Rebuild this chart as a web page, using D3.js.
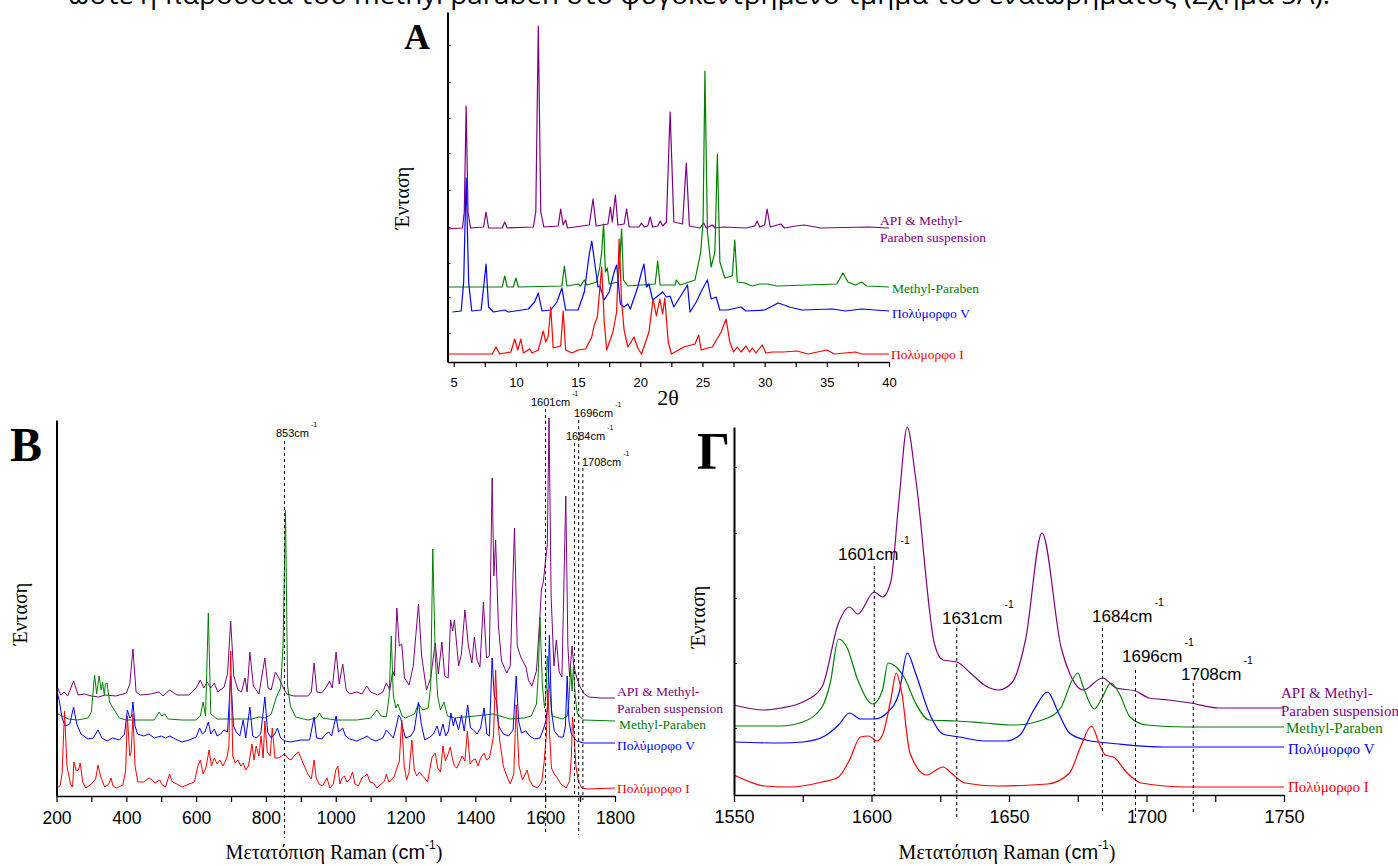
<!DOCTYPE html>
<html><head><meta charset="utf-8">
<script src="https://cdn.jsdelivr.net/npm/d3@7"></script>
<style>body{margin:0;background:#fff;} svg{display:block;background:#fff}</style>
</head><body><svg id="c" width="1398" height="866"></svg>
<script>
// ---------------- DATA ----------------
const headerText = "ώστε η παρουσία του methyl paraben στο φυγοκεντρημένο τμήμα του εναιωρήματος (Σχήμα 5Α).";
const seriesNames = ["API & Methyl-", "Paraben suspension", "Methyl-Paraben", "Πολύμορφο V", "Πολύμορφο I"];
const seriesColors = ["#800080", "#008000", "#0000ff", "#ff0000"];
const yLabel = "Ένταση";
const ramanLabel = ["Μετατόπιση Raman (", "cm", "-1", ")"];
const xrdLabel = "2θ";
const panelLetters = ["A", "B", "Γ"];

// Panel A : XRD (2θ, intensity a.u.)
const aTicks = [5, 7.5, 10, 12.5, 15, 17.5, 20, 22.5, 25, 27.5, 30, 32.5, 35, 37.5, 40];
const aTickLabels = [5, 10, 15, 20, 25, 30, 35, 40];
const aYTicks = [29, 65, 99, 135, 172, 209, 244, 280, 317];
const aSuspension = [[4.5,133],[5.7,134],[5.85,150],[6.0,256],[6.15,150],[6.35,134],[7.4,135],[7.6,150],[7.8,134],[8.9,134],[9.1,140],[9.3,134],[11.4,135],[11.6,150],[11.8,336],[12.0,150],[12.25,135],[13.4,136],[13.6,153],[13.8,137],[14.0,142],[14.15,134],[15.9,137],[16.2,163],[16.45,136],[17.4,138],[17.6,155],[17.75,140],[18.0,167],[18.2,137],[18.7,138],[18.9,153],[19.1,135],[19.9,135],[20.1,139],[20.3,135],[20.6,136],[20.8,145],[21.0,135],[21.4,136],[21.6,141],[21.8,136],[22.1,140],[22.4,250],[22.7,140],[23.4,138],[23.7,199],[23.95,136],[24.8,134],[25.1,139],[25.3,134],[25.8,137],[26.0,134],[26.7,135],[28.5,134],[29.2,136],[29.4,141],[29.6,135],[30.0,137],[30.2,153],[30.45,135],[31.3,138],[31.6,134],[32.5,136],[33.2,137],[34.5,134],[38.3,135],[40,134]];
const aMethyl = [[4.5,75],[8.9,75],[9.1,86],[9.3,75],[9.8,75],[10.0,84],[10.2,75],[13.7,76],[13.9,96],[14.1,76],[15.0,78],[15.2,76],[15.5,82],[15.7,77],[16.5,80],[16.75,95],[16.9,110],[17.05,138],[17.2,90],[17.35,94],[17.5,78],[18.2,80],[18.35,100],[18.5,133],[18.65,82],[19,76],[21.2,78],[21.4,101],[21.6,77],[22.8,77],[22.9,82],[23.2,77],[24.4,82],[24.85,109],[25.05,140],[25.2,291],[25.4,130],[25.7,95],[26.0,110],[26.2,208],[26.4,100],[26.8,84],[27.4,86],[27.6,122],[27.8,80],[28.4,79],[29.0,76],[29.6,78],[30.2,78],[31.0,76],[35.8,78],[36.3,89],[36.7,80],[37.3,77],[37.8,80],[38.2,76],[40,75]];
const aFormV = [[4.9,50],[5.6,51],[5.8,80],[6.0,184],[6.2,80],[6.45,51],[7.2,52],[7.45,80],[7.6,98],[7.8,55],[8.2,50],[9.1,52],[9.4,50],[11.0,53],[11.5,60],[11.8,69],[12.1,51],[12.8,52],[13.3,60],[13.7,74],[14.0,52],[15.0,52],[15.5,70],[15.9,108],[16.1,121],[16.35,98],[16.6,75],[16.75,76],[17.1,62],[17.5,70],[17.9,90],[18.1,97],[18.4,58],[18.7,55],[19.0,58],[19.2,53],[19.8,75],[20.1,90],[20.3,98],[20.5,75],[20.7,78],[21.0,62],[21.4,66],[21.8,70],[22.1,65],[22.4,66],[22.7,55],[23.3,67],[23.8,77],[24.0,50],[24.5,60],[25.0,73],[25.4,82],[25.7,63],[26.1,65],[26.4,52],[27,52],[28.1,55],[28.5,51],[30,52],[31.1,59],[32,55],[33,52],[35.5,53],[36.5,51],[37.8,53],[40,51]];
const aFormI = [[4.5,8],[8.1,8],[8.4,15],[8.7,8],[9.6,10],[9.9,23],[10.15,12],[10.4,23],[10.6,9],[11.1,13],[11.3,9],[11.8,12],[12.2,31],[12.4,20],[12.6,26],[12.8,55],[13.0,14],[13.6,16],[13.8,51],[14.0,12],[14.5,9],[15.0,12],[15.6,13],[16.1,25],[16.3,37],[16.55,45],[16.9,95],[17.1,40],[17.3,12],[17.8,30],[18.1,50],[18.3,123],[18.5,60],[18.7,32],[19.0,15],[19.5,25],[19.8,14],[20.1,8],[20.7,30],[21.03,63],[21.3,46],[21.57,63],[21.8,48],[21.97,64],[22.25,20],[22.5,8],[23.5,15],[24.4,18],[24.7,27],[24.9,12],[25.4,14],[25.8,15],[26.5,30],[26.9,43],[27.2,20],[27.5,10],[27.8,15],[28.1,10],[28.5,16],[28.8,10],[29.0,14],[29.3,9],[29.8,17],[30.1,9],[30.6,10],[31.5,10],[32.6,11],[33.5,8],[35.0,12],[35.6,8],[37.3,10],[37.8,8],[40,8]];

// Panel B : Raman full range (cm-1, intensity a.u.)
const bTicks = [200,300,400,500,600,700,800,900,1000,1100,1200,1300,1400,1500,1600,1700,1800];
const bTickLabels = [200,400,600,800,1000,1200,1400,1600,1800];
const bMarkers = [853, 1601, 1684, 1696, 1708];
const bMarkerLabels = ["853cm", "1601cm", "1684cm", "1696cm", "1708cm"];
const bSuspension = [[200,111],[212,101],[222,104],[232,100],[249,115],[262,101],[280,102],[300,100],[320,99],[340,101],[370,100],[400,103],[410,112],[419,147],[428,104],[440,101],[470,102],[494,104],[505,100],[524,106],[545,101],[580,101],[600,108],[612,116],[622,108],[632,114],[642,108],[652,113],[662,104],[680,109],[690,122],[699,175],[708,120],[720,106],[730,104],[740,118],[746,104],[754,144],[764,110],[780,102],[797,138],[806,108],[815,106],[827,124],[837,118],[845,112],[853,106],[860,102],[880,100],[920,100],[930,104],[938,133],[946,104],[960,103],[975,110],[982,115],[990,108],[1001,144],[1010,112],[1020,132],[1030,106],[1040,102],[1060,104],[1075,102],[1089,110],[1100,104],[1120,101],[1135,104],[1145,113],[1155,106],[1163,125],[1168,120],[1175,188],[1182,150],[1189,152],[1197,118],[1210,111],[1222,130],[1237,192],[1246,140],[1260,106],[1272,118],[1285,153],[1294,122],[1304,154],[1312,120],[1322,118],[1329,176],[1335,165],[1340,176],[1352,130],[1360,142],[1370,186],[1380,150],[1390,133],[1397,159],[1405,136],[1413,129],[1423,194],[1432,138],[1440,140],[1448,318],[1453,220],[1458,256],[1466,170],[1475,135],[1490,123],[1500,130],[1512,268],[1520,150],[1530,139],[1545,129],[1552,116],[1562,110],[1575,125],[1585,180],[1589,206],[1595,215],[1601,236],[1606,250],[1611,378],[1617,200],[1625,130],[1632,156],[1640,124],[1648,119],[1659,300],[1665,150],[1670,119],[1677,150],[1682,130],[1690,119],[1700,109],[1712,102],[1725,99],[1760,98],[1800,98]];
const bMethyl = [[200,83],[215,80],[235,77],[260,76],[290,78],[300,84],[309,121],[315,102],[322,120],[328,106],[332,114],[337,101],[340,112],[345,113],[352,94],[362,88],[380,78],[400,76],[480,76],[494,84],[502,80],[510,82],[520,77],[560,76],[600,76],[612,80],[620,94],[627,80],[635,183],[642,82],[660,77],[700,77],[760,77],[780,79],[800,78],[815,82],[830,99],[842,108],[849,150],[856,286],[862,110],[870,90],[885,79],[920,76],[945,78],[953,83],[962,78],[1000,76],[1060,76],[1100,78],[1118,86],[1130,80],[1145,79],[1153,100],[1159,160],[1165,100],[1172,88],[1178,92],[1190,80],[1200,78],[1225,82],[1237,92],[1250,86],[1265,88],[1272,110],[1278,247],[1285,140],[1292,100],[1300,86],[1310,94],[1320,80],[1340,78],[1400,80],[1450,82],[1470,80],[1500,77],[1540,78],[1560,80],[1575,92],[1580,120],[1585,179],[1592,110],[1598,88],[1602,100],[1606,140],[1612,110],[1620,80],[1650,77],[1663,80],[1668,95],[1673,129],[1677,105],[1681,129],[1686,100],[1692,82],[1710,76],[1800,75]];
const bFormV = [[200,107],[208,95],[216,78],[225,70],[238,72],[249,89],[258,72],[270,62],[290,57],[305,58],[319,66],[330,58],[345,55],[360,58],[380,56],[395,62],[403,86],[410,78],[415,80],[419,94],[425,70],[432,62],[450,60],[465,62],[480,58],[500,60],[512,58],[525,60],[540,57],[560,54],[580,56],[600,59],[610,68],[618,62],[625,64],[635,74],[642,62],[652,67],[660,60],[670,62],[680,66],[690,64],[699,120],[707,70],[715,64],[725,60],[735,76],[742,58],[754,89],[762,60],[772,58],[785,62],[797,99],[805,64],[815,58],[825,62],[833,68],[842,58],[855,55],[870,54],[900,56],[925,56],[938,79],[945,58],[960,57],[972,62],[980,64],[988,60],[1001,80],[1008,64],[1020,68],[1028,60],[1040,57],[1060,55],[1080,58],[1090,60],[1100,57],[1115,55],[1135,58],[1145,66],[1155,62],[1165,58],[1175,72],[1180,81],[1186,78],[1192,68],[1200,58],[1215,60],[1225,66],[1237,94],[1245,72],[1255,56],[1270,59],[1280,62],[1290,70],[1298,60],[1307,72],[1315,60],[1323,65],[1330,83],[1337,70],[1342,78],[1352,66],[1360,81],[1368,65],[1378,91],[1386,68],[1395,66],[1405,62],[1415,68],[1425,88],[1433,62],[1440,60],[1448,138],[1454,100],[1460,96],[1467,70],[1480,62],[1495,60],[1508,66],[1517,120],[1524,75],[1532,63],[1545,65],[1555,60],[1570,57],[1585,58],[1595,67],[1602,75],[1607,90],[1612,161],[1618,85],[1626,65],[1640,59],[1652,59],[1658,70],[1663,120],[1668,75],[1675,62],[1690,55],[1710,53],[1800,53]];
const bFormI = [[200,8],[210,10],[216,22],[223,85],[230,30],[240,12],[246,9],[250,34],[257,25],[263,26],[268,33],[275,14],[284,8],[300,12],[312,17],[319,31],[326,20],[338,9],[350,12],[356,18],[362,10],[372,8],[390,11],[398,25],[403,80],[410,40],[414,44],[419,82],[425,30],[433,14],[450,14],[465,18],[475,16],[482,13],[496,16],[503,11],[512,9],[524,22],[532,14],[545,12],[560,9],[580,12],[595,14],[605,30],[612,36],[620,22],[628,28],[637,46],[644,30],[652,38],[660,32],[668,36],[677,30],[688,38],[694,50],[699,145],[705,40],[712,33],[720,36],[728,30],[735,33],[742,26],[750,30],[760,52],[766,36],[772,50],[780,40],[786,60],[792,38],[797,75],[804,44],[812,40],[818,68],[826,38],[835,38],[845,40],[853,42],[862,38],[872,36],[880,40],[893,44],[905,34],[920,22],[930,17],[938,36],[944,18],[952,12],[962,10],[970,15],[975,18],[983,8],[993,12],[1000,26],[1006,30],[1012,12],[1018,18],[1025,20],[1032,14],[1040,17],[1048,24],[1055,12],[1065,10],[1075,18],[1083,20],[1090,22],[1098,14],[1108,13],[1118,8],[1130,12],[1140,15],[1145,22],[1152,14],[1160,16],[1168,20],[1175,28],[1182,34],[1189,76],[1196,30],[1203,16],[1210,24],[1218,56],[1225,26],[1232,20],[1240,24],[1248,20],[1255,18],[1263,14],[1276,39],[1285,43],[1292,28],[1300,24],[1307,50],[1314,35],[1320,40],[1328,49],[1335,36],[1340,30],[1347,28],[1355,34],[1362,40],[1370,35],[1377,65],[1385,32],[1393,36],[1400,37],[1408,30],[1415,38],[1425,43],[1432,36],[1440,38],[1447,50],[1452,60],[1458,126],[1463,80],[1470,55],[1480,30],[1490,20],[1500,12],[1510,22],[1517,91],[1525,30],[1535,16],[1548,26],[1555,16],[1565,10],[1578,8],[1590,14],[1597,34],[1603,60],[1608,106],[1613,60],[1618,28],[1626,22],[1635,18],[1645,12],[1660,8],[1670,15],[1675,40],[1678,79],[1683,60],[1688,30],[1695,15],[1705,8],[1720,7],[1800,8]];

// Panel Γ : Raman zoom 1550-1750 cm-1
const gTicks = [1550,1575,1600,1625,1650,1675,1700,1725,1750];
const gTickLabels = [1550,1600,1650,1700,1750];
const gYTicks = [67, 132, 197, 262, 328];
const gMarkers = [1601, 1631, 1684, 1696, 1717];
const gMarkerLabels = ["1601cm", "1631cm", "1684cm", "1696cm", "1708cm"];
const gSuspension = [[1550,90],[1561,85],[1567,87],[1575,93],[1582,108],[1588,172],[1592,188],[1595,181],[1601,203],[1604,198],[1607,213],[1610,295],[1613,368],[1616,318],[1623,150],[1626,135],[1631,133],[1636,122],[1641,110],[1646,105],[1651,112],[1656,155],[1662,262],[1669,147],[1672,122],[1677,105],[1684,117],[1689,107],[1696,104],[1701,97],[1708,95],[1716,92],[1726,87],[1736,87],[1750,87]];
const gMethyl = [[1550,69],[1567,69],[1575,73],[1582,88],[1585,112],[1588,156],[1591,148],[1595,115],[1600.5,91],[1604,105],[1606,132],[1610,125],[1612,117],[1616,92],[1621,75],[1631,74],[1641,72],[1652,70],[1664,77],[1669,88],[1673,115],[1675,122],[1677,108],[1681,86],[1684,98],[1687,112],[1690,102],[1694,78],[1700,70],[1714,68],[1750,68]];
const gFormV = [[1550,53],[1567,52],[1575,53],[1583,59],[1588,70],[1592,82],[1596,76],[1601,76],[1606,83],[1610,102],[1613,142],[1616,122],[1621,82],[1626,61],[1632,58],[1641,54],[1649,54],[1654,60],[1659,85],[1664,103],[1668,82],[1672,62],[1678,55],[1690,51],[1706,48],[1750,48]];
const gFormI = [[1550,20],[1555,14],[1561,9],[1570,8],[1582,13],[1588,18],[1592,35],[1596,58],[1599,59],[1602,54],[1604,60],[1607,95],[1609,122],[1611,102],[1614,42],[1620,20],[1623,24],[1626,28],[1629,22],[1634,12],[1646,9],[1664,11],[1672,22],[1676,48],[1680,69],[1683,50],[1685,40],[1688,38],[1693,22],[1698,12],[1715,8],[1750,8]];

// ---------------- DRAWING ----------------
const SERIF = '"Liberation Serif","Times New Roman",serif';
const SANS = '"Liberation Sans",Arial,sans-serif';
const svg = d3.select('#c');

svg.append('text').attr('x', 68).attr('y', 4).attr('font-family', '"Open Sans","Noto Sans",sans-serif')
  .attr('font-size', 25).attr('textLength', 1262).attr('lengthAdjust', 'spacingAndGlyphs').text(headerText);

function drawPanel(p) {
  const x = d3.scaleLinear().domain(p.xDomain).range(p.xRange);
  const y = d3.scaleLinear().domain(p.yDomain).range(p.yRange);
  const g = svg.append('g');
  const line = d3.line().x(d => x(d[0])).y(d => y(d[1])).curve(p.smooth ? d3.curveMonotoneX : d3.curveLinear);
  p.series.forEach((s, i) => {
    g.append('path').attr('d', line(s)).attr('fill', 'none')
      .attr('stroke', seriesColors[i]).attr('stroke-width', p.lw).attr('stroke-linejoin', 'round');
  });
  // markers (dashed)
  if (p.markers) {
    p.markers.forEach((m, i) => {
      const mk = p.markerPos[i];
      g.append('line').attr('x1', x(m)).attr('x2', x(m)).attr('y1', mk.y1).attr('y2', mk.y2)
        .attr('stroke', '#000').attr('stroke-width', 1).attr('stroke-dasharray', '3,3');
      const t = g.append('text').attr('x', mk.lx).attr('y', mk.ly).attr('font-family', SANS)
        .attr('font-size', p.markerFont).attr('fill', '#000');
      t.append('tspan').text(p.markerLabels[i]);
      t.append('tspan').attr('font-size', p.markerFont * 0.62).attr('dx', 2).attr('dy', -p.markerFont * 0.95).text('-1');
    });
  }
  // x axis
  const ax = d3.axisBottom(x).tickValues(p.ticks).tickSize(p.tickLen).tickSizeOuter(0)
    .tickFormat(d => p.tickLabels.includes(d) ? d : '');
  const axg = g.append('g').attr('transform', `translate(0,${p.yRange[0]})`).call(ax);
  axg.select('.domain').attr('stroke-width', 1.6);
  axg.selectAll('.tick line').attr('stroke-width', 1.2);
  axg.selectAll('text').attr('font-family', SANS).attr('font-size', p.tickFont)
    .attr('y', p.tickLabelOff).attr('dy', 0).attr('fill', '#000');
  // y axis
  const ay = d3.axisRight(y).tickValues(p.yTicks || []).tickSize(3).tickSizeOuter(0).tickFormat('');
  const ayg = g.append('g').attr('transform', `translate(${p.xRange[0]},0)`).call(ay);
  ayg.select('.domain').attr('stroke-width', 2);
  // y label
  g.append('text').attr('transform', `translate(${p.yLabelPos[0]},${p.yLabelPos[1]}) rotate(-90)`)
    .attr('text-anchor', 'middle').attr('dominant-baseline', 'central')
    .attr('font-family', SERIF).attr('font-size', 20).text(yLabel);
  // x label
  const xl = g.append('text').attr('x', p.xLabelPos[0]).attr('y', p.xLabelPos[1])
    .attr('text-anchor', 'middle').attr('font-family', SERIF).attr('font-size', p.xLabelFont);
  if (p.raman) {
    xl.append('tspan').text(ramanLabel[0]);
    xl.append('tspan').attr('font-family', SANS).text(ramanLabel[1]);
    xl.append('tspan').attr('font-family', SANS).attr('font-size', p.xLabelFont * 0.6).attr('dy', -10).text(ramanLabel[2]);
    xl.append('tspan').attr('dy', 10).text(ramanLabel[3]);
  } else {
    xl.text(xrdLabel);
  }
  // panel letter
  g.append('text').attr('x', p.letterPos[0]).attr('y', p.letterPos[1]).attr('font-family', SERIF)
    .attr('font-weight', 'bold').attr('font-size', p.letterFont).text(p.letter);
  // series labels
  const lp = p.labelPos;
  const texts = [[seriesNames[0], 0], [seriesNames[1], 0], [seriesNames[2], 1], [seriesNames[3], 2], [seriesNames[4], 3]];
  texts.forEach((t, i) => {
    g.append('text').attr('x', lp[i][0]).attr('y', lp[i][1]).attr('dominant-baseline', 'central')
      .attr('font-family', SERIF).attr('font-size', p.labelFont).attr('fill', seriesColors[t[1]]).text(t[0]);
  });
}

// Panel A
drawPanel({
  xDomain: [4.5, 40], xRange: [447.5, 889], yDomain: [0, 350], yRange: [362, 12],
  series: [aSuspension, aMethyl, aFormV, aFormI], lw: 1.2, smooth: false,
  ticks: aTicks, tickLabels: aTickLabels, tickLen: 5, tickFont: 13, tickLabelOff: 25,
  yTicks: aYTicks, yLabelPos: [402, 198], xLabelPos: [668, 405], xLabelFont: 22, raman: false,
  letter: panelLetters[0], letterPos: [404, 49], letterFont: 36,
  labelPos: [[880, 220], [880, 237], [892, 288], [892, 313], [891, 354]], labelFont: 13.5
});

// Panel B
drawPanel({
  xDomain: [200, 1800], xRange: [56.5, 615], yDomain: [0, 376], yRange: [796, 420],
  series: [bSuspension, bMethyl, bFormV, bFormI], lw: 1, smooth: false,
  ticks: bTicks, tickLabels: bTickLabels, tickLen: 6, tickFont: 17.5, tickLabelOff: 28,
  yTicks: [], yLabelPos: [20, 614], xLabelPos: [334, 859], xLabelFont: 20, raman: true,
  letter: panelLetters[1], letterPos: [10, 461], letterFont: 48,
  labelPos: [[617, 691], [617, 708], [619, 724], [617, 745], [617, 788]], labelFont: 13.5,
  markers: bMarkers, markerLabels: bMarkerLabels, markerFont: 11,
  markerPos: [
    {y1: 441, y2: 838, lx: 276, ly: 437},
    {y1: 409, y2: 835, lx: 531, ly: 406},
    {y1: 443, y2: 797, lx: 566, ly: 440},
    {y1: 420, y2: 835, lx: 574, ly: 417},
    {y1: 468, y2: 800, lx: 582, ly: 466}
  ]
});

// Panel Γ
drawPanel({
  xDomain: [1550, 1750], xRange: [734, 1284], yDomain: [0, 368], yRange: [795, 427],
  series: [gSuspension, gMethyl, gFormV, gFormI], lw: 1.2, smooth: true,
  ticks: gTicks, tickLabels: gTickLabels, tickLen: 7, tickFont: 18, tickLabelOff: 28,
  yTicks: gYTicks, yLabelPos: [698, 617], xLabelPos: [1007, 859], xLabelFont: 20, raman: true,
  letter: panelLetters[2], letterPos: [697, 469], letterFont: 52,
  labelPos: [[1281, 693], [1281, 711], [1286, 728], [1288, 749], [1288, 787]], labelFont: 15,
  markers: gMarkers, markerLabels: gMarkerLabels, markerFont: 17,
  markerPos: [
    {y1: 566, y2: 795, lx: 838, ly: 560},
    {y1: 628, y2: 818, lx: 942, ly: 624},
    {y1: 628, y2: 813, lx: 1092, ly: 622},
    {y1: 670, y2: 818, lx: 1122, ly: 662},
    {y1: 683, y2: 812, lx: 1181, ly: 680}
  ]
});
</script></body></html>
